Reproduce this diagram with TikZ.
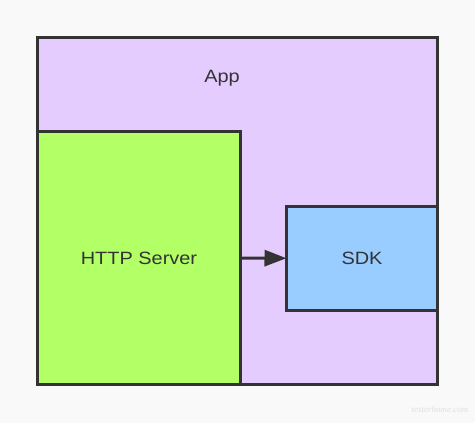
\documentclass[tikz,border=0pt]{standalone}
\usepackage{fontspec}
\setmainfont{Liberation Sans}[FakeStretch=1.12]
\newfontfamily\wmfont{Liberation Serif}
\usetikzlibrary{arrows.meta}
\definecolor{bgc}{HTML}{F9F9F9}
\definecolor{appc}{HTML}{E5CCFF}
\definecolor{httpc}{HTML}{B3FF66}
\definecolor{sdkc}{HTML}{99CCFF}
\definecolor{strokec}{HTML}{333333}
\definecolor{textc}{HTML}{333333}
\tikzset{
  boxstyle/.style={draw=strokec, line width=3pt, rectangle, inner sep=0pt, outer sep=0pt,
    text=textc, font=\fontsize{17.8}{20}\selectfont},
  lbl/.style={text=textc, font=\fontsize{17.8}{20}\selectfont, inner sep=0pt},
  conn/.style={draw=strokec, line width=3pt, -{Triangle[length=22pt,width=16pt]}},
}
\begin{document}
\begin{tikzpicture}[x=1pt,y=-1pt]
\fill[bgc] (0,0) rectangle (475,423);
\useasboundingbox (0,0) rectangle (475,423);
\node[boxstyle, fill=appc, minimum width=400pt, minimum height=347pt] (appbox) at (237.5,211) {};
\node[lbl] (app) at (222,78) {App};
\node[boxstyle, fill=httpc, minimum width=203pt, minimum height=253pt] (http) at (139,258) {HTTP Server};
\node[boxstyle, fill=sdkc, minimum width=151pt, minimum height=103.5pt] (sdk) at (362,258.25) {SDK};
\draw[conn] (http.east) -- (sdk.west);
\node[text=black!12, font=\wmfont\itshape\fontsize{9}{10}\selectfont, inner sep=0pt] (wm) at (440,409) {testerhome.com};
\end{tikzpicture}
\end{document}
